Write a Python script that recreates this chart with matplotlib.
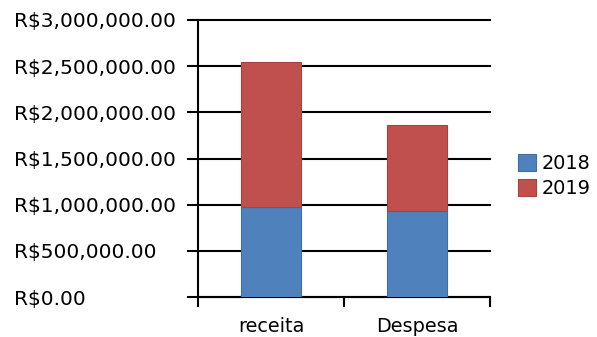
import matplotlib
matplotlib.use("Agg")
import matplotlib.pyplot as plt
import numpy as np

categories = ["receita", "Despesa"]
series_names = ["2018", "2019"]
values_2018 = [980000, 935000]
values_2019 = [1570000, 928000]
y_ticks = [0, 500000, 1000000, 1500000, 2000000, 2500000, 3000000]
y_tick_labels = ["R$0.00", "R$500,000.00", "R$1,000,000.00", "R$1,500,000.00",
                 "R$2,000,000.00", "R$2,500,000.00", "R$3,000,000.00"]

colors = ["#4F81BD", "#C0504D"]
edges = ["#3F6FA5", "#A8423F"]

plt.rcParams['font.family'] = ['DejaVu Sans']
FS = 13.9
FS_Y = 14.5
PX = 0.72  # points per pixel at 100 dpi

W, H = 597, 337
fig = plt.figure(figsize=(W / 100, H / 100), dpi=100)
ax = fig.add_axes([198 / W, 1 - 297 / H, (490 - 198) / W, (297 - 20) / H])

x = np.arange(len(categories)) + 0.5
width = 0.41
ax.bar(x, values_2018, width, color=colors[0], edgecolor=edges[0], linewidth=0.8,
       label=series_names[0], zorder=3)
ax.bar(x, values_2019, width, bottom=values_2018, color=colors[1], edgecolor=edges[1],
       linewidth=0.8, label=series_names[1], zorder=3)

ax.set_xlim(0, len(categories))
ax.set_ylim(0, 3000000)

lw = 1.5
ytick_len = 11
ax.set_yticks(y_ticks)
ax.set_yticklabels(y_tick_labels, fontsize=FS_Y, ha='left')
ax.tick_params(axis='y', length=ytick_len * PX, width=lw, direction='out',
               pad=(198 - 14 - ytick_len) * PX, colors='black')
ax.yaxis.grid(True, color='black', linewidth=lw, zorder=1)
ax.set_axisbelow(True)
for gl in ax.get_ygridlines():
    gl.set_clip_on(False)

ax.set_xticks(np.arange(len(categories) + 1))
ax.set_xticklabels([])
ax.tick_params(axis='x', which='major', length=10 * PX, width=lw, direction='out')
ax.set_xticks(x, minor=True)
ax.set_xticklabels(categories, minor=True, fontsize=FS)
ax.tick_params(axis='x', which='minor', length=0, pad=20.5 * PX)

for s in ['top', 'right']:
    ax.spines[s].set_visible(False)
for s in ['left', 'bottom']:
    ax.spines[s].set_linewidth(lw)
    ax.spines[s].set_color('black')

handles, labels = ax.get_legend_handles_labels()
fig.legend(handles, labels, loc='center left', bbox_to_anchor=(508 / W, 1 - 176 / H),
           frameon=False, fontsize=FS, handlelength=0.95, handleheight=0.95,
           handletextpad=0.3, labelspacing=0.3, borderpad=0)

fig.savefig("out.png", dpi=100, facecolor='white')
